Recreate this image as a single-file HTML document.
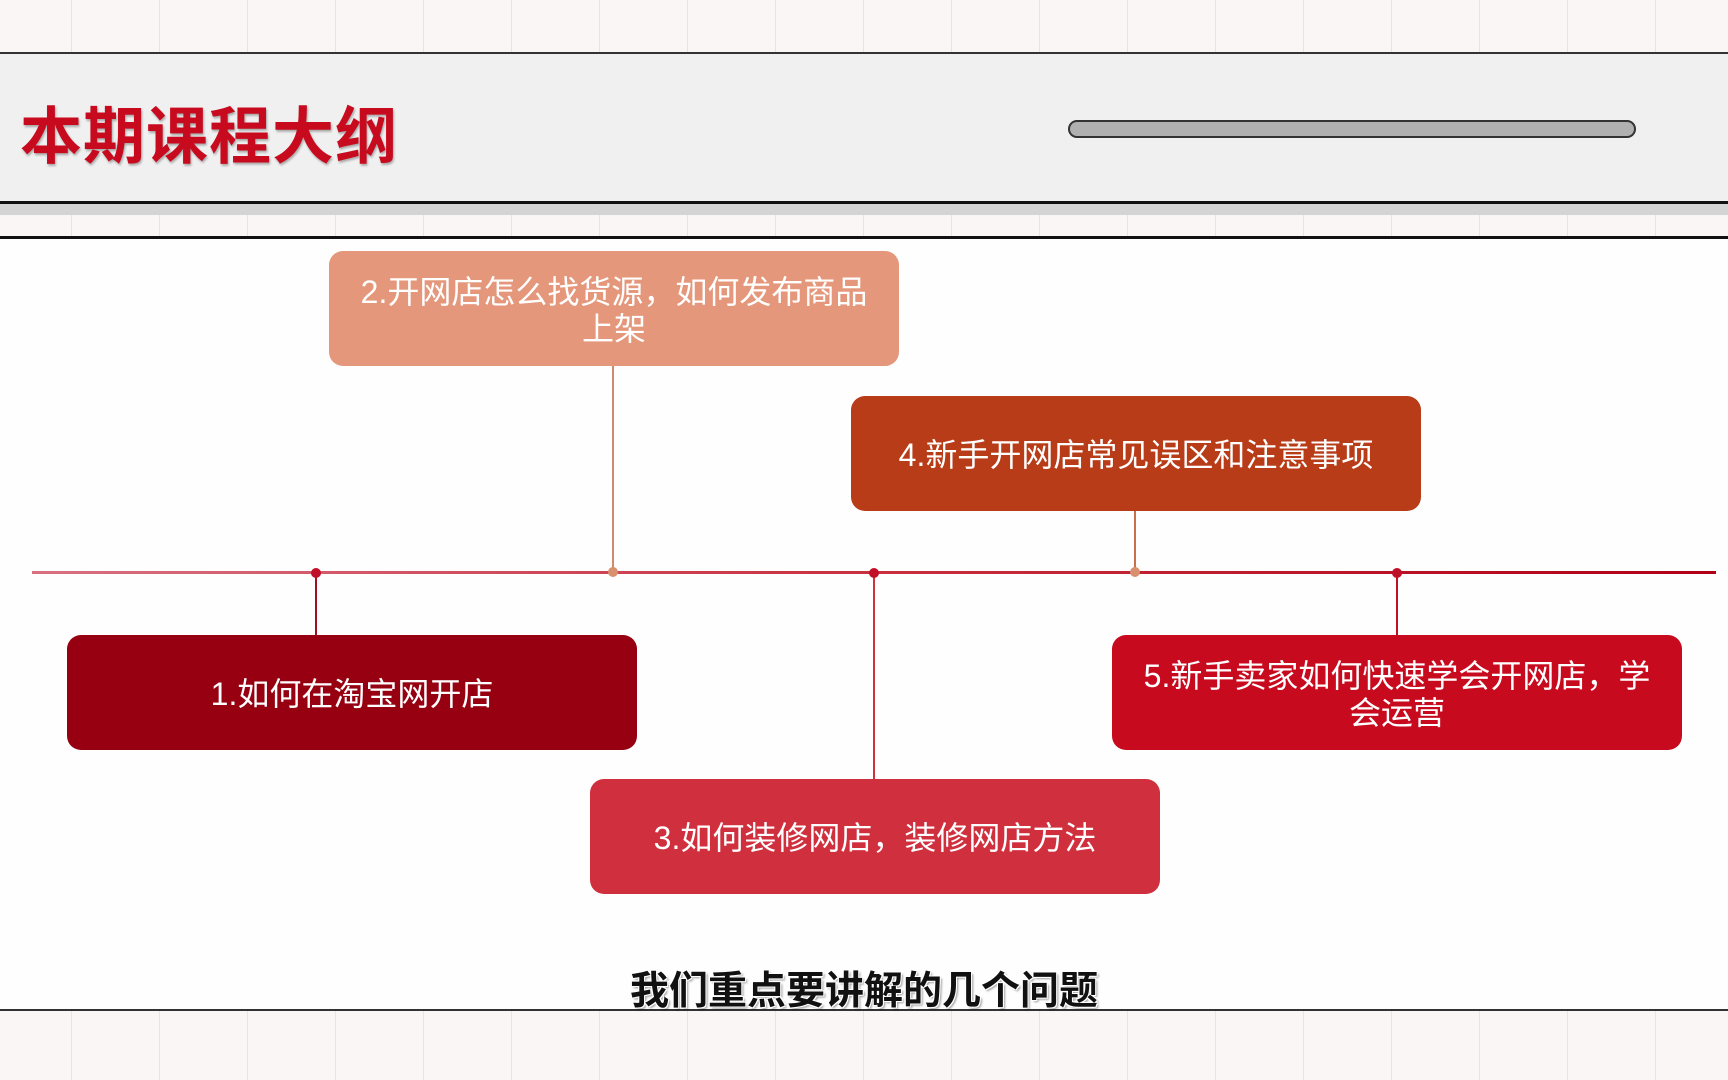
<!DOCTYPE html>
<html><head><meta charset="utf-8"><style>
body{margin:0;width:1728px;height:1080px;overflow:hidden;position:relative;background:#faf6f5;font-family:"Liberation Sans","Noto Sans CJK SC",sans-serif;}
.grid{position:absolute;left:0;width:1728px;background-image:repeating-linear-gradient(90deg,transparent 0 71px,#ebe3e1 71px 72px,transparent 72px 88px);}
.box{position:absolute;width:570px;height:115px;border-radius:14px;color:#fff;font-size:32px;line-height:37px;display:flex;align-items:center;justify-content:center;text-align:center;padding-top:4px;box-sizing:border-box;}
.v{position:absolute;width:2px;}
.dot{position:absolute;width:10px;height:10px;border-radius:50%;}
</style></head><body>
<div class="grid" style="top:0;height:53px"></div>
<div style="position:absolute;left:0;top:52px;width:1728px;height:2px;background:#333"></div>
<div style="position:absolute;left:0;top:54px;width:1728px;height:147px;background:#f0f0f0"></div>
<div style="position:absolute;left:20px;top:100px;font-size:62px;font-weight:bold;color:#c80a1e;letter-spacing:1px;line-height:76px;text-shadow:1px 2px 2px rgba(0,0,0,.3)">本期课程大纲</div>
<div style="position:absolute;left:1068px;top:120px;width:564px;height:14px;border:2px solid #333;border-radius:9px;background:#b0b0b0"></div>
<div style="position:absolute;left:0;top:201px;width:1728px;height:3px;background:#111"></div>
<div style="position:absolute;left:0;top:204px;width:1728px;height:11px;background:#d4d4d4"></div>
<div class="grid" style="top:215px;height:22px"></div>
<div style="position:absolute;left:0;top:236px;width:1728px;height:3px;background:#111"></div>
<div style="position:absolute;left:0;top:239px;width:1728px;height:770px;background:#fefefe"></div>
<div style="position:absolute;left:0;top:1009px;width:1728px;height:2px;background:#333"></div>
<div class="grid" style="top:1011px;height:69px"></div>

<div style="position:absolute;left:32px;top:571px;width:1684px;height:3px;background:linear-gradient(90deg,#d87080,#c83040,#b00018)"></div>

<div class="v" style="left:612px;top:366px;height:206px;background:#d08a70"></div>
<div class="dot" style="left:608px;top:567px;background:#d8906e"></div>
<div class="v" style="left:1134px;top:510px;height:62px;background:#c8704c"></div>
<div class="dot" style="left:1130px;top:567px;background:#d8906e"></div>
<div class="v" style="left:315px;top:572px;height:63px;background:#a01020"></div>
<div class="dot" style="left:311px;top:568px;background:#c01028"></div>
<div class="v" style="left:873px;top:572px;height:207px;background:#d03040"></div>
<div class="dot" style="left:869px;top:568px;background:#c01028"></div>
<div class="v" style="left:1396px;top:572px;height:63px;background:#c01028"></div>
<div class="dot" style="left:1392px;top:568px;background:#c01028"></div>

<div class="box" style="left:329px;top:251px;background:#e4977a">2.开网店怎么找货源，如何发布商品<br>上架</div>
<div class="box" style="left:851px;top:396px;background:#b83c18">4.新手开网店常见误区和注意事项</div>
<div class="box" style="left:67px;top:635px;background:#960010">1.如何在淘宝网开店</div>
<div class="box" style="left:590px;top:779px;background:#d0303e">3.如何装修网店，装修网店方法</div>
<div class="box" style="left:1112px;top:635px;background:#c80a1e">5.新手卖家如何快速学会开网店，学<br>会运营</div>

<div style="position:absolute;left:0;width:1728px;top:970px;text-align:center;font-size:39px;font-weight:bold;color:#111;line-height:44px;text-shadow:-1px -1px 0 #fff,1px -1px 0 #fff,-1px 1px 0 #fff,1px 1px 0 #fff,2px 2px 2px rgba(0,0,0,.4)">我们重点要讲解的几个问题</div>
</body></html>
